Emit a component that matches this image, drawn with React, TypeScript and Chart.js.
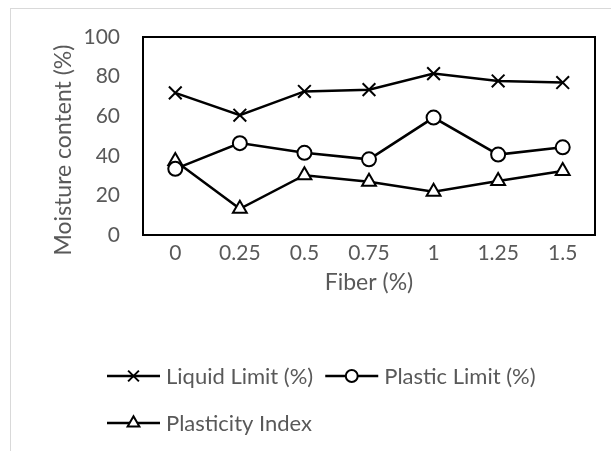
import React, { useEffect, useRef } from 'react';
import { Chart, registerables } from 'chart.js';
import { drawPoint } from 'chart.js/helpers';

Chart.register(...registerables);

const categories = ['0', '0.25', '0.5', '0.75', '1', '1.25', '1.5'];
const liquidLimit = [71.8, 60.5, 72.5, 73.4, 81.5, 77.8, 77.0];
const plasticLimit = [33.4, 46.4, 41.5, 38.2, 59.3, 40.6, 44.3];
const plasticityIndex = [37.4, 13.2, 30.2, 26.9, 21.8, 27.3, 32.3];
const yTicks = [0, 20, 40, 60, 80, 100];

const seriesNames = ['Liquid Limit (%)', 'Plastic Limit (%)', 'Plasticity Index'];
const xTitle = 'Fiber (%)';
const yTitle = 'Moisture content (%)';

const FONT = 'Lato, "Open Sans", sans-serif';
const GRAY = '#595959';

const framePlugin = {
  id: 'frames',
  beforeDraw(chart: any) {
    const ctx = chart.ctx;
    ctx.save();
    ctx.fillStyle = '#ffffff';
    ctx.fillRect(0, 0, chart.width, chart.height);
    ctx.strokeStyle = '#d9d9d9';
    ctx.lineWidth = 1;
    ctx.strokeRect(10.5, 8.5, chart.width + 20, chart.height + 20);
    ctx.restore();
  },
  afterDatasetsDraw(chart: any) {
    const { ctx, chartArea } = chart;
    ctx.save();
    ctx.strokeStyle = '#000000';
    ctx.lineWidth = 2;
    ctx.strokeRect(chartArea.left, chartArea.top, chartArea.right - chartArea.left, chartArea.bottom - chartArea.top);
    // y axis title
    ctx.fillStyle = GRAY;
    ctx.font = `23px ${FONT}`;
    ctx.textAlign = 'center';
    ctx.textBaseline = 'middle';
    ctx.translate(64, 150);
    ctx.rotate(-Math.PI / 2);
    ctx.fillText(yTitle, 0, 0);
    ctx.restore();
  },
};

const legendPlugin = {
  id: 'customLegend',
  afterDraw(chart: any) {
    const ctx = chart.ctx;
    const rows = [
      { y: 376, items: [0, 1] },
      { y: 423, items: [2] },
    ];
    ctx.save();
    ctx.font = `22px ${FONT}`;
    ctx.textBaseline = 'middle';
    ctx.textAlign = 'left';
    rows.forEach((row) => {
      let x = 107;
      row.items.forEach((i) => {
        const ds = chart.data.datasets[i];
        ctx.strokeStyle = '#000';
        ctx.lineWidth = 2.5;
        ctx.beginPath();
        ctx.moveTo(x, row.y);
        ctx.lineTo(x + 53, row.y);
        ctx.stroke();
        ctx.fillStyle = '#fff';
        ctx.strokeStyle = '#000';
        ctx.lineWidth = 2;
        drawPoint(ctx, { pointStyle: ds.pointStyle, rotation: 0, radius: ds.pointRadius * 0.85, borderWidth: 2 }, x + 26.5, row.y);
        ctx.fillStyle = GRAY;
        ctx.fillText(ds.label, x + 59, row.y + 1);
        x = x + 59 + ctx.measureText(ds.label).width + 12;
      });
    });
    ctx.restore();
  },
};

function makeDataset(label: string, data: number[], pointStyle: string, radius: number) {
  return {
    label,
    data,
    borderColor: '#000000',
    borderWidth: 2.5,
    pointStyle,
    pointRadius: radius,
    pointHoverRadius: radius,
    pointBorderWidth: 2,
    pointBorderColor: '#000000',
    pointBackgroundColor: '#ffffff',
    tension: 0,
    fill: false,
  };
}

export default function App() {
  const ref = useRef<HTMLCanvasElement>(null);
  useEffect(() => {
    if (!ref.current) return;
    const chart = new Chart(ref.current, {
      type: 'line',
      data: {
        labels: categories,
        datasets: [
          makeDataset(seriesNames[0], liquidLimit, 'crossRot', 9),
          makeDataset(seriesNames[1], plasticLimit, 'circle', 7),
          makeDataset(seriesNames[2], plasticityIndex, 'triangle', 8),
        ],
      },
      options: {
        responsive: false,
        animation: false,
        devicePixelRatio: 1,
        layout: { padding: { top: 37, right: 16, left: 0, bottom: 0 } },
        plugins: {
          legend: { display: false },
          tooltip: { enabled: false },
        },
        scales: {
          x: {
            type: 'category',
            offset: true,
            grid: { display: false, drawTicks: false },
            border: { display: false },
            ticks: { font: { family: FONT, size: 21 }, color: GRAY, padding: 6, maxRotation: 0 },
            title: { display: true, text: xTitle, font: { family: FONT, size: 23 }, color: GRAY, padding: { top: 0, bottom: 155 } },
            afterFit: (scale: any) => { scale.height = 216; },
          },
          y: {
            min: 0,
            max: 100,
            afterBuildTicks: (scale: any) => { scale.ticks = yTicks.map((v) => ({ value: v })); },
            grid: { display: false, drawTicks: false },
            border: { display: false },
            ticks: { font: { family: FONT, size: 21 }, color: GRAY, padding: 23 },
            title: { display: false, text: yTitle },
            afterFit: (scale: any) => { scale.width = 143; },
          },
        },
      } as any,
      plugins: [framePlugin, legendPlugin],
    });
    return () => chart.destroy();
  }, []);
  return (
    <div style={{ position: 'absolute', left: 0, top: 0, width: 611, height: 451 }}>
      <canvas ref={ref} width={611} height={451} style={{ display: 'block' }} />
    </div>
  );
}
